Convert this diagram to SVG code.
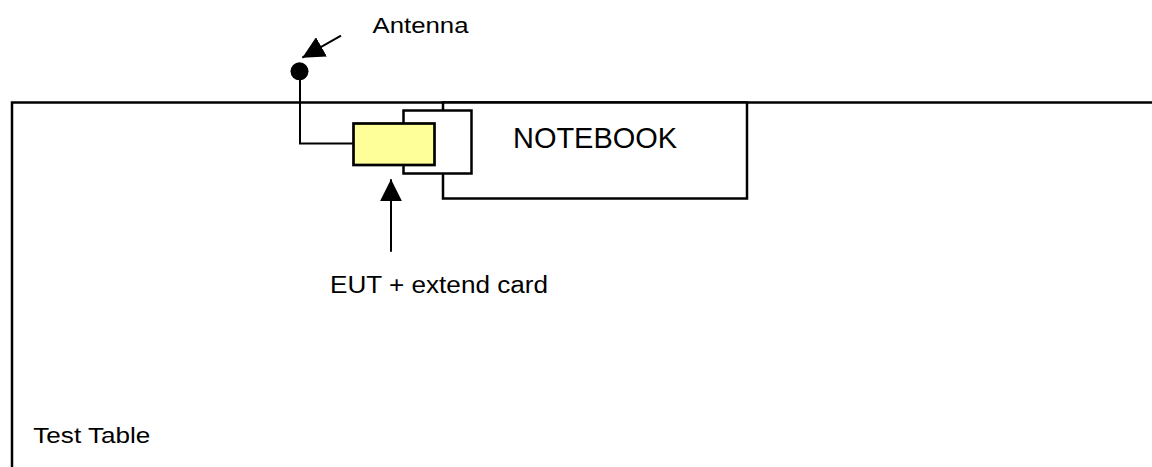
<svg xmlns="http://www.w3.org/2000/svg" width="1152" height="467" viewBox="0 0 1152 467">
<style>
  .box { fill: #ffffff; stroke: #000000; stroke-width: 2.5; }
  .eut { fill: #ffff99; stroke: #000000; stroke-width: 2.7; }
  .wire { fill: none; stroke: #000000; stroke-width: 2; }
  .lbl { font-family: "Liberation Sans", Arial, sans-serif; fill: #000000; }
</style>
<defs>
  <marker id="arrow" markerUnits="userSpaceOnUse" markerWidth="22" markerHeight="22" viewBox="0 0 20 20" refX="20" refY="10" orient="auto">
    <path d="M0,0 L20,10 L0,20 Z" fill="#000000"/>
  </marker>
</defs>
<rect x="0" y="0" width="1152" height="467" fill="#ffffff"/>
<g id="test-table">
  <path d="M12,467 V102.5 H1152" fill="none" stroke="#000000" stroke-width="2.5"/>
  <text class="lbl" x="33.3" y="443.3" font-size="22.5" textLength="117" lengthAdjust="spacingAndGlyphs">Test Table</text>
</g>
<g id="notebook">
  <rect class="box" x="443" y="102.5" width="304" height="96"/>
  <text class="lbl" x="513" y="148.3" font-size="29" textLength="164" lengthAdjust="spacingAndGlyphs">NOTEBOOK</text>
</g>
<g id="extend-card">
  <rect class="box" x="403.5" y="110.5" width="68" height="63"/>
</g>
<g id="eut">
  <rect class="eut" x="353.5" y="123.5" width="81" height="41.5"/>
</g>
<g id="antenna">
  <circle cx="299.5" cy="71.3" r="9" fill="#000000"/>
  <text class="lbl" x="372.5" y="33.3" font-size="22.5" textLength="96" lengthAdjust="spacingAndGlyphs">Antenna</text>
</g>
<g id="eut-label">
  <text class="lbl" x="330" y="293.3" font-size="23" textLength="218" lengthAdjust="spacingAndGlyphs">EUT + extend card</text>
</g>
<g id="connectors">
  <path class="wire" d="M300,71 V143.5 H353"/>
  <line class="wire" x1="341" y1="35.7" x2="302.3" y2="57.7" marker-end="url(#arrow)"/>
  <line class="wire" x1="391" y1="251.7" x2="391" y2="179.3" marker-end="url(#arrow)"/>
</g>
</svg>
